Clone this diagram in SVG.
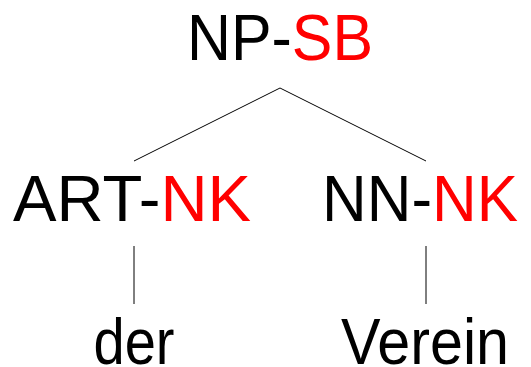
<svg xmlns="http://www.w3.org/2000/svg" width="531" height="367" viewBox="0 0 531 367">
  <style>
    .lbl { font-family: "Liberation Sans", "DejaVu Sans", sans-serif; font-size: 64px; fill: #000; text-anchor: middle; }
    .fn { fill: #ff0000; }
    .edge { stroke: #000; stroke-width: 1; fill: none; }
  </style>
  <rect width="531" height="367" fill="#fff"/>
  <g id="edges">
    <polyline class="edge" points="134,161 280,88 426,161"/>
    <line class="edge" x1="134" y1="246" x2="134" y2="304"/>
    <line class="edge" x1="426" y1="246" x2="426" y2="304"/>
  </g>
  <g id="np-sb">
    <text class="lbl" x="280" y="60" textLength="186" lengthAdjust="spacingAndGlyphs">NP-<tspan class="fn">SB</tspan></text>
  </g>
  <g id="art-nk">
    <text class="lbl" x="132" y="221" textLength="238" lengthAdjust="spacingAndGlyphs">ART-<tspan class="fn">NK</tspan></text>
  </g>
  <g id="nn-nk">
    <text class="lbl" x="420" y="221" textLength="196" lengthAdjust="spacingAndGlyphs">NN-<tspan class="fn">NK</tspan></text>
  </g>
  <g id="der">
    <text class="lbl" x="134" y="364" textLength="81" lengthAdjust="spacingAndGlyphs">der</text>
  </g>
  <g id="verein">
    <text class="lbl" x="425" y="364" textLength="168" lengthAdjust="spacingAndGlyphs">Verein</text>
  </g>
</svg>
